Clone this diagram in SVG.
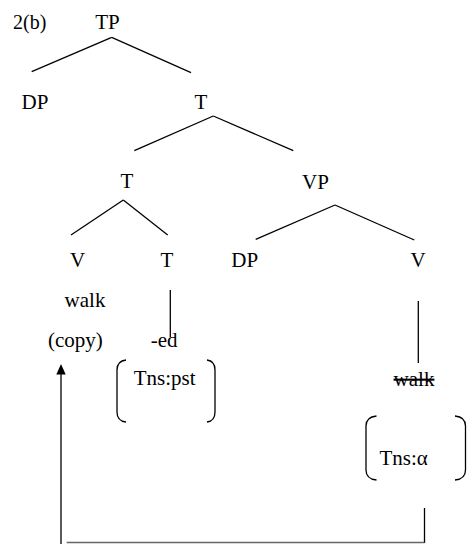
<svg xmlns="http://www.w3.org/2000/svg" width="469" height="544" viewBox="0 0 469 544">
<style>
text{font-family:'Liberation Serif',serif;font-size:21px;fill:#000;text-anchor:middle}
.l{stroke:#000;stroke-width:1.3;fill:none}
.br{stroke:#000;stroke-width:1.3;fill:none}
</style>
<rect width="469" height="544" fill="#fff"/>
<g id="label"><text x="29.7" y="29" style="font-size:20px">2(b)</text></g>
<g id="TP"><text x="107.5" y="29">TP</text></g>
<g id="DP1"><text x="35" y="109">DP</text></g>
<g id="Tbar"><text x="201" y="109">T</text></g>
<g id="T2"><text x="127" y="188">T</text></g>
<g id="VP"><text x="315.5" y="189">VP</text></g>
<g id="V1"><text x="77.7" y="267">V</text></g>
<g id="T3"><text x="167" y="267">T</text></g>
<g id="DP2"><text x="244.7" y="267">DP</text></g>
<g id="V2"><text x="418" y="267">V</text></g>
<g id="walk1"><text x="85" y="306.7">walk</text></g>
<g id="copy"><text x="75.3" y="347">(copy)</text></g>
<g id="ed"><text x="164.2" y="347">-ed</text></g>
<g id="feat1">
<path class="br" d="M126,360 Q117,361 117,370 L117,412 Q117,421 126,422"/>
<path class="br" d="M207,360 Q215,361 215,370 L215,412 Q215,421 207,422"/>
<text x="164.7" y="385">Tns:pst</text>
</g>
<g id="walk2"><text x="414" y="386" text-decoration="line-through">walk</text></g>
<g id="feat2">
<path class="br" d="M376.5,416 Q366,417 366,426 L366,470 Q366,479 376.5,480"/>
<path class="br" d="M455,416 Q465.5,417 465.5,426 L465.5,470 Q465.5,479 455,480"/>
<text x="403.7" y="465">Tns:α</text>
</g>
<g id="connectors">
<line class="l" x1="31.7" y1="71.7" x2="111.7" y2="37.3"/>
<line class="l" x1="111.7" y1="37.3" x2="191" y2="72.7"/>
<line class="l" x1="213.3" y1="116" x2="134.3" y2="150.7"/>
<line class="l" x1="213.3" y1="116" x2="293.3" y2="150.7"/>
<line class="l" x1="335" y1="205" x2="255.7" y2="239.3"/>
<line class="l" x1="335" y1="205" x2="414.3" y2="240"/>
<line class="l" x1="123.3" y1="200" x2="71" y2="235"/>
<line class="l" x1="123.3" y1="200" x2="167.7" y2="235"/>
<line class="l" x1="170.3" y1="290" x2="170.3" y2="337"/>
<line class="l" x1="418.3" y1="301" x2="418.3" y2="363"/>
<line class="l" x1="61" y1="372" x2="61" y2="544"/>
<polygon points="61,364 56.3,374.5 65.7,374.5" fill="#000"/>
<line class="l" x1="424.5" y1="508" x2="424.5" y2="543"/>
<line x1="66.7" y1="542.5" x2="424.5" y2="542.5" stroke="#666" stroke-width="1.3"/>
</g>
</svg>
